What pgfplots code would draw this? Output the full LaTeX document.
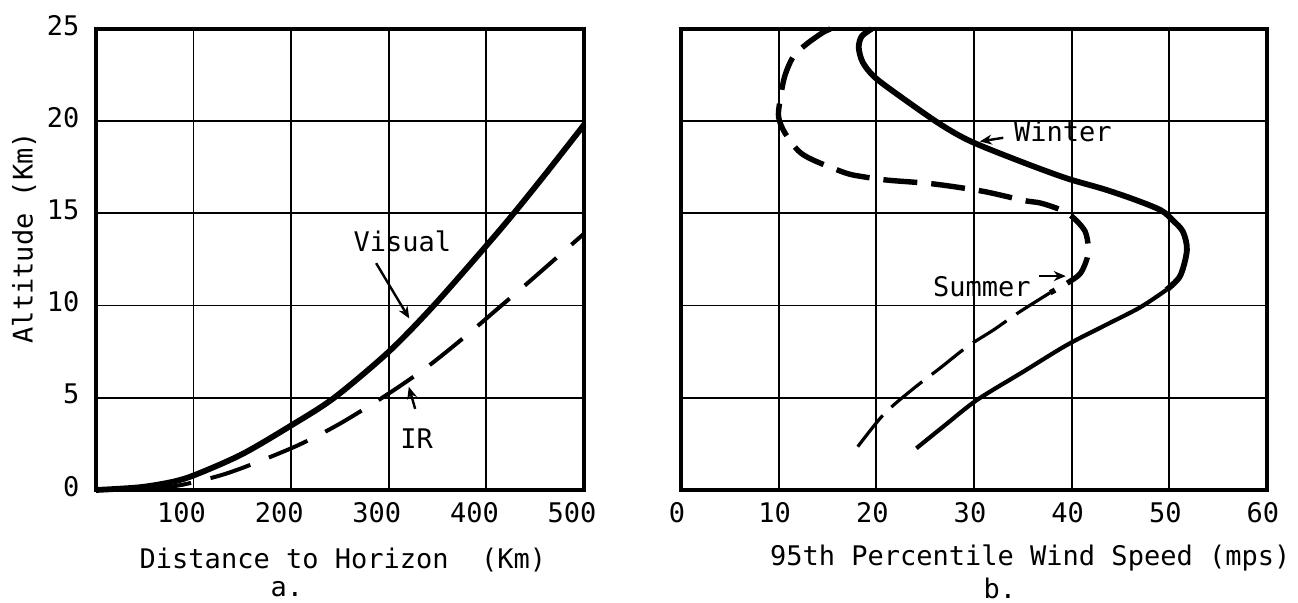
\documentclass[border=0pt]{standalone}
\usepackage{fontspec}
\setmainfont{DejaVu Sans Mono}
\usepackage{pgfplots}
\pgfplotsset{compat=1.18}
\usetikzlibrary{arrows.meta}

\pgfplotsset{
  panel/.style={
    scale only axis,
    anchor=south west,
    height=230.5pt,
    ymin=0, ymax=25,
    ytick={0,5,...,25},
    grid=major,
    major grid style={black, line width=0.9pt},
    axis line style={black, line width=1.9pt},
    tick style={draw=none},
    /pgf/number format/assume math mode=true,
    clip=false,
  },
  thickline/.style={black, line width=2.9pt, smooth, no markers},
  thinline/.style={black, line width=2.1pt, smooth, no markers},
}

\begin{document}
\begin{tikzpicture}[font=\fontsize{13.5}{16}\selectfont,
  pointer/.style={-{Stealth[length=6pt,width=5pt]}, line width=1.2pt}]
\path[use as bounding box] (0,0) rectangle (649pt,301.5pt);

% (a) distance to horizon
\begin{axis}[panel,
  at={(48pt,56.5pt)}, width=244pt,
  xmin=0, xmax=500, xtick={100,200,...,500},
  xticklabel style={xshift=-6pt, yshift=-2.8pt},
  yticklabel style={xshift=-4.75pt, yshift=1.75pt},
  ylabel={Altitude (Km)},
  ylabel style={at={(axis description cs:-0.1475,0.547)}, anchor=center},
  xlabel={Distance to Horizon~~(Km)},
  xlabel style={at={(axis description cs:0.506,-0.152)}, anchor=center},
]
% visual horizon
\addplot[thickline] coordinates {
  (0,0) (45,0.15) (79,0.45) (103,0.85) (150,1.95) (200,3.5) (244,5.0)
  (300,7.5) (346,10) (400,13.25) (428,15) (460,17.1) (500,19.8)};
% infrared horizon
\addplot[black, line width=2pt, smooth, no markers, dash pattern=on 21pt off 10pt] coordinates {
  (55,0) (90,0.3) (128,0.8) (160,1.4) (208,2.45) (250,3.6) (299,5.2)
  (340,6.7) (380,8.4) (412,9.85) (444,11.3) (500,13.9)};
\node at (axis cs:314,13.5) {Visual};
\draw[pointer] (axis cs:287,12.3) -- (axis cs:321,9.3);
\node at (axis cs:328.5,2.77) {IR};
\draw[pointer] (axis cs:327,4.4) -- (axis cs:320.5,5.6);
\node[inner sep=0pt] at (axis description cs:0.391,-0.214) {a.};
\end{axis}

% (b) wind speed profile
\begin{axis}[panel,
  at={(340.5pt,56.5pt)}, width=293pt,
  xmin=0, xmax=60, xtick={0,10,...,60},
  yticklabels={},
  xticklabel style={xshift=-2pt, yshift=-2.8pt},
  xlabel={95th Percentile Wind Speed (mps)},
  xlabel style={at={(axis description cs:0.596,-0.1475)}, anchor=center},
]
% winter, upper part
\addplot[thickline] coordinates {
  (19.5,25) (18.5,24.6) (18.2,24.0) (18.6,23.2) (19.8,22.4) (22.3,21.4)
  (26.5,19.85) (29.7,18.9) (35,17.77) (39.5,16.9) (43.4,16.3) (46.7,15.7)
  (49.2,15.15) (50.4,14.6) (51.4,14.0) (51.8,13.0) (51.1,11.6) (49.7,10.85)};
% winter, lower part
\addplot[thinline] coordinates {
  (49.7,10.85) (47,9.9) (43.5,8.95) (39.5,7.86) (35,6.4) (30.3,4.88)
  (27,3.5) (24.1,2.26)};
% summer, upper part
\addplot[black, line width=2.7pt, smooth, no markers, dash pattern=on 17pt off 7pt] coordinates {
  (15.3,25) (14.5,24.8) (12.9,24.2) (11.5,23.5) (10.6,22.4) (10.1,21.0)
  (10.0,20.2) (10.6,19.4) (12.0,18.4) (13.5,17.9) (16.8,17.2) (18.5,17.0)
  (21.2,16.8) (25.8,16.6) (30.9,16.2) (35.1,15.7) (36.9,15.55) (39.3,15.1)
  (40.5,14.6) (41.4,14.0) (41.7,13.2) (41.6,12.6) (40.9,11.75) (39.5,11.2)
  (37.8,10.7)};
% summer, lower part
\addplot[black, line width=1.6pt, smooth, no markers, dash pattern=on 20pt off 6pt] coordinates {
  (37.8,10.7) (34.5,9.6) (32.0,8.68) (29.3,7.77) (26.5,6.6) (23.8,5.5)
  (20.7,4.07) (17.6,2.0)};
\node at (axis cs:39.1,19.44) {Winter};
\draw[pointer] (axis cs:33.0,19.1) -- (axis cs:30.6,18.9);
\node at (axis cs:30.8,11.0) {Summer};
\draw[pointer] (axis cs:36.7,11.6) -- (axis cs:39.4,11.6);
\node[inner sep=0pt] at (axis description cs:0.544,-0.214) {b.};
\end{axis}
\end{tikzpicture}
\end{document}
